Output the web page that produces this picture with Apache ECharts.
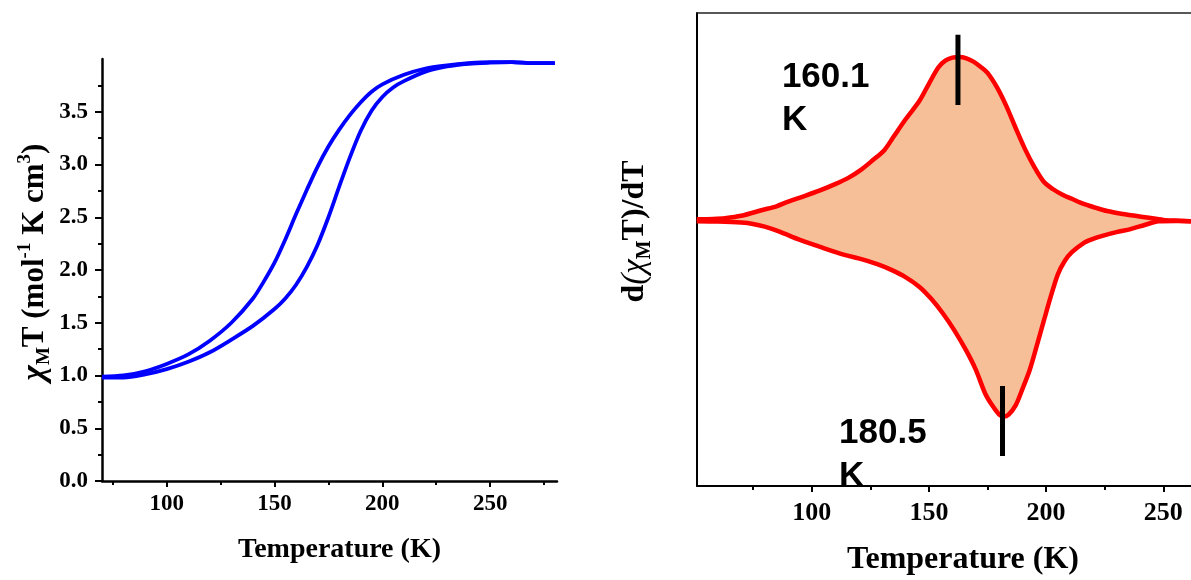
<!DOCTYPE html>
<html>
<head>
<meta charset="utf-8">
<script src="https://cdn.jsdelivr.net/npm/echarts@6/dist/echarts.min.js"></script>
<style>
html,body{margin:0;padding:0;background:#fff;}
#c{width:1191px;height:580px;}
</style>
</head>
<body>
<div id="c"></div>
<script>
// ---- Left panel: chi_M T vs T ----
const coolT = [70,80,90,100,110,120,130,140,145,150,155,160,165,170,175,180,185,190,195,200,210,220,230,240,250,260,270,280];
const coolV = [0.99,1.00,1.04,1.11,1.20,1.33,1.50,1.73,1.89,2.07,2.29,2.53,2.76,2.98,3.17,3.33,3.47,3.59,3.69,3.76,3.85,3.91,3.94,3.96,3.97,3.97,3.96,3.96];
const heatT = [70,80,90,100,110,120,130,140,150,155,160,165,170,175,180,185,190,195,200,205,210,220,230,240,250,260,270,280];
const heatV = [0.98,0.98,1.01,1.06,1.13,1.22,1.34,1.47,1.63,1.73,1.86,2.03,2.24,2.50,2.79,3.07,3.32,3.51,3.64,3.73,3.79,3.88,3.93,3.955,3.965,3.97,3.96,3.96];
const leftXMajor = [100,150,200,250];
const leftXMinor = [75,125,175,225,275];
const leftYMajor = [0,0.5,1.0,1.5,2.0,2.5,3.0,3.5];
const leftYMinor = [0.25,0.75,1.25,1.75,2.25,2.75,3.25,3.75];

// ---- Right panel: d(chi_M T)/dT vs T ----
const upT = [51,58,63,70,79,85,90,96,103,110,116,121,126,131,135,140,146,150,154,157,160,163,166,169,172,175,179,183,187,191,195,199,203,207,211,216,221,226,232,238,243,250,255,262,270,278];
const upV = [0.0002,0.0003,0.0005,0.0012,0.0029,0.0040,0.0054,0.0068,0.0085,0.0105,0.0125,0.0147,0.0175,0.0205,0.0245,0.0295,0.0350,0.0400,0.0448,0.0468,0.0477,0.0479,0.0475,0.0465,0.0450,0.0432,0.0390,0.0335,0.0270,0.0208,0.0155,0.0112,0.0090,0.0074,0.0062,0.0047,0.0036,0.0026,0.0018,0.0012,0.0007,0.0000,-0.0002,-0.0004,-0.0004,-0.0004];
const lowT = [51,60,70,75,80,86,95,103,114,120,128,134,140,146,151,156,161,166,170,174,177,180,182,184,187,190,193,196,199,202,205,208,211,216,220,224,230,236,242,248,255,262,270,278];
const lowV = [-0.0004,-0.0005,-0.0008,-0.0012,-0.0020,-0.0034,-0.0059,-0.0078,-0.0103,-0.0113,-0.0130,-0.0147,-0.0168,-0.0197,-0.0232,-0.0275,-0.0326,-0.0385,-0.0440,-0.0510,-0.0545,-0.0572,-0.0578,-0.0572,-0.0545,-0.0495,-0.0441,-0.0370,-0.0297,-0.0225,-0.0160,-0.0120,-0.0095,-0.0068,-0.0056,-0.0047,-0.0036,-0.0027,-0.0015,-0.0004,-0.0003,-0.0004,-0.0004,-0.0004];
const barT = [162.4, 181.4];
const barTop = [0.0544, -0.0488];
const barBottom = [0.0338, -0.0694];
const annT = [87.3, 111.7];
const annV = [0.0481, -0.0564];
const annText = ['160.1\nK', '180.5\nK'];
const rightXMajor = [100,150,200,250];
const rightXMinor = [75,125,175,225,275];

const pairs = (xs, ys) => xs.map((x, i) => [x, ys[i]]);
const serif = 'Liberation Serif';
const lblStyle = (size) => ({fontFamily: serif, fontWeight: 'bold', fontSize: size, color: '#000'});

const chart = echarts.init(document.getElementById('c'), null, {renderer: 'canvas'});

const option = {
  backgroundColor: '#fff',
  animation: false,
  grid: [
    {left: 102, top: 59, right: 634, bottom: 99, outerBoundsMode: 'none', containLabel: false},
    {left: 697, top: 13, right: -38, bottom: 94, outerBoundsMode: 'none', containLabel: false}
  ],
  xAxis: [
    { // left main
      type: 'value', gridIndex: 0, min: 70, max: 281, position: 'bottom',
      axisLine: {show: true, onZero: false, lineStyle: {color: '#000', width: 2.5}},
      axisTick: {show: true, customValues: leftXMajor, length: 6, inside: false, lineStyle: {color: '#000', width: 2}},
      axisLabel: {show: true, customValues: leftXMajor, margin: 12, ...lblStyle(23)},
      splitLine: {show: false},
      name: 'Temperature (K)', nameLocation: 'middle', nameGap: 55,
      nameTextStyle: {...lblStyle(28), padding: [0, 0, 0, 20]}
    },
    { // left minor ticks
      type: 'value', gridIndex: 0, min: 70, max: 281, position: 'bottom', offset: 0,
      axisLine: {show: false, onZero: false},
      axisTick: {show: true, customValues: leftXMinor, length: 4, lineStyle: {color: '#000', width: 2}},
      axisLabel: {show: false}, splitLine: {show: false}
    },
    { // right main
      type: 'value', gridIndex: 1, min: 51.1, max: 278, position: 'bottom',
      axisLine: {show: true, onZero: false, lineStyle: {color: '#000', width: 2}},
      axisTick: {show: true, customValues: rightXMajor, length: 6, lineStyle: {color: '#000', width: 2}},
      axisLabel: {show: true, customValues: rightXMajor, margin: 14, ...lblStyle(26)},
      splitLine: {show: false},
      name: 'Temperature (K)', nameLocation: 'middle', nameGap: 58,
      nameTextStyle: lblStyle(32)
    },
    { // right minor ticks
      type: 'value', gridIndex: 1, min: 51.1, max: 278, position: 'bottom', offset: 0,
      axisLine: {show: false, onZero: false},
      axisTick: {show: true, customValues: rightXMinor, length: 4, lineStyle: {color: '#000', width: 2}},
      axisLabel: {show: false}, splitLine: {show: false}
    },
    { // right top frame
      type: 'value', gridIndex: 1, min: 51.1, max: 278, position: 'top',
      axisLine: {show: true, onZero: false, lineStyle: {color: '#222', width: 1.5}},
      axisTick: {show: false}, axisLabel: {show: false}, splitLine: {show: false}
    }
  ],
  yAxis: [
    { // left main
      type: 'value', gridIndex: 0, min: 0, max: 4, position: 'left',
      axisLine: {show: true, onZero: false, lineStyle: {color: '#000', width: 2.5}},
      axisTick: {show: true, customValues: leftYMajor, length: 7, lineStyle: {color: '#000', width: 2}},
      axisLabel: {show: true, customValues: leftYMajor, margin: 14, formatter: v => Number(v).toFixed(1), ...lblStyle(23)},
      splitLine: {show: false},
      name: '{chi|χ}{sub|M}{b|T (mol}{sup|-1}{b| K cm}{sup|3}{b|)}',
      nameLocation: 'middle', nameGap: 48,
      nameTextStyle: {
        padding: [0, 0, 0, 16],
        rich: {
          b: {fontFamily: serif, fontWeight: 'bold', fontSize: 31, lineHeight: 38, color: '#000'},
          chi: {fontFamily: serif, fontWeight: 'bold', fontStyle: 'italic', fontSize: 33, lineHeight: 38, color: '#000'},
          sub: {fontFamily: serif, fontWeight: 'bold', fontSize: 19, lineHeight: 19, verticalAlign: 'bottom', color: '#000'},
          sup: {fontFamily: serif, fontWeight: 'bold', fontSize: 19, lineHeight: 19, verticalAlign: 'top', color: '#000'}
        }
      }
    },
    { // left minor
      type: 'value', gridIndex: 0, min: 0, max: 4, position: 'left', offset: 0,
      axisLine: {show: false, onZero: false},
      axisTick: {show: true, customValues: leftYMinor, length: 4, lineStyle: {color: '#000', width: 2}},
      axisLabel: {show: false}, splitLine: {show: false}
    },
    { // right
      type: 'value', gridIndex: 1, min: -0.0782, max: 0.0608, position: 'left',
      axisLine: {show: true, onZero: false, lineStyle: {color: '#000', width: 2}},
      axisTick: {show: false}, axisLabel: {show: false}, splitLine: {show: false},
      name: '{b|d}{chi|(χ}{sub|M}{b|T)/dT}',
      nameLocation: 'middle', nameGap: 42,
      nameTextStyle: {
        padding: [0, 0, 0, 36],
        rich: {
          b: {fontFamily: serif, fontWeight: 'bold', fontSize: 32, lineHeight: 40, color: '#000'},
          chi: {fontFamily: serif, fontWeight: 'normal', fontStyle: 'italic', fontSize: 33, lineHeight: 40, color: '#000'},
          sub: {fontFamily: serif, fontWeight: 'bold', fontSize: 20, lineHeight: 20, verticalAlign: 'bottom', color: '#000'}
        }
      }
    }
  ],
  series: [
    {
      type: 'line', name: 'cooling', xAxisIndex: 0, yAxisIndex: 0,
      data: pairs(coolT, coolV), smooth: 0.3, showSymbol: false,
      lineStyle: {color: '#0000FF', width: 3.8}
    },
    {
      type: 'line', name: 'heating', xAxisIndex: 0, yAxisIndex: 0,
      data: pairs(heatT, heatV), smooth: 0.3, showSymbol: false,
      lineStyle: {color: '#0000FF', width: 3.8}
    },
    {
      type: 'line', name: 'upFill', xAxisIndex: 2, yAxisIndex: 2,
      data: pairs(upT, upV), smooth: 0.3, showSymbol: false, z: 1,
      lineStyle: {width: 0}, areaStyle: {color: '#F7BF97', opacity: 1, origin: 0}
    },
    {
      type: 'line', name: 'lowFill', xAxisIndex: 2, yAxisIndex: 2,
      data: pairs(lowT, lowV), smooth: 0.3, showSymbol: false, z: 1,
      lineStyle: {width: 0}, areaStyle: {color: '#F7BF97', opacity: 1, origin: 0}
    },
    {
      type: 'line', name: 'up', xAxisIndex: 2, yAxisIndex: 2,
      data: pairs(upT, upV), smooth: 0.3, showSymbol: false, z: 3,
      lineStyle: {color: '#FF0000', width: 4.5}
    },
    {
      type: 'line', name: 'low', xAxisIndex: 2, yAxisIndex: 2,
      data: pairs(lowT, lowV), smooth: 0.3, showSymbol: false, z: 3,
      lineStyle: {color: '#FF0000', width: 4.5}
    },
    ...barT.map((t, i) => ({
      type: 'line', name: 'bar' + i, xAxisIndex: 2, yAxisIndex: 2,
      data: [[t, barTop[i]], [t, barBottom[i]]], showSymbol: false, z: 4,
      lineStyle: {color: '#000', width: 5}
    }))
  ]
};
chart.setOption(option);

// Annotation texts placed at data coordinates via the library's scales
const annGraphics = annT.map((t, i) => {
  const p = chart.convertToPixel({xAxisIndex: 2, yAxisIndex: 2}, [t, annV[i]]);
  return {
    type: 'text', x: p[0], y: p[1], z: 100,
    style: {
      text: annText[i], fill: '#000', opacity: 1,
      font: 'bold 35px "Liberation Sans"', lineHeight: 43,
      align: 'left', verticalAlign: 'top'
    }
  };
});
chart.setOption({graphic: annGraphics});
</script>
</body>
</html>
